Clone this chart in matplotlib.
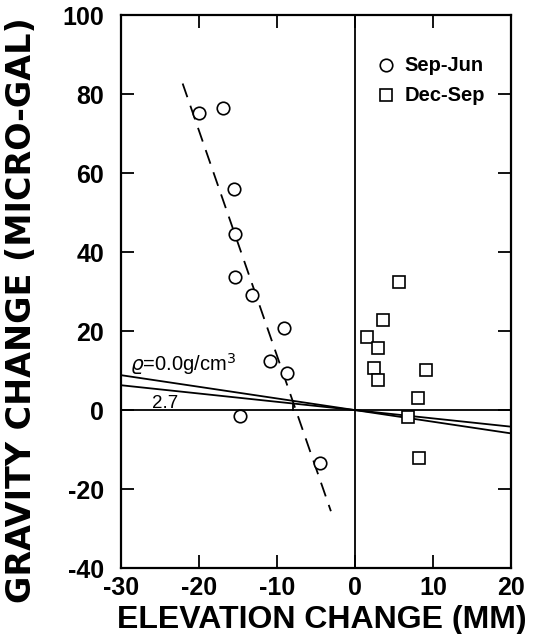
import matplotlib
matplotlib.use("Agg")
import matplotlib.pyplot as plt
import numpy as np

# Sep-Jun (circles)
sj_x = [-20.0, -16.9, -15.5, -15.4, -15.4, -13.2, -9.1, -10.9, -8.7, -14.7, -4.5]
sj_y = [75.2, 76.4, 56.1, 44.6, 33.7, 29.1, 20.9, 12.5, 9.3, -1.5, -13.3]
# Dec-Sep (squares)
ds_x = [5.6, 3.6, 1.5, 3.0, 2.4, 3.0, 9.1, 8.0, 6.8, 8.2]
ds_y = [32.5, 22.8, 18.4, 15.8, 10.6, 7.6, 10.1, 3.1, -1.7, -12.1]
# dashed fit line end points
fit_x = [-22.1, -3.1]
fit_y = [82.7, -25.6]
# theoretical gradient lines (micro-gal per mm) through origin
grad_rho0 = -0.295
grad_rho27 = -0.21
x_ticks = [-30, -20, -10, 0, 10, 20]
y_ticks = [-40, -20, 0, 20, 40, 60, 80, 100]

fig = plt.figure(figsize=(5.33, 6.34), dpi=100)
ax = fig.add_axes([0.227, 0.104, 0.732, 0.872])
ax.set_xlim(-30, 20)
ax.set_ylim(-40, 100)

lw = 1.3
xs = np.array([-30, 20])
ax.plot(xs, grad_rho0 * xs, color="black", lw=lw)
ax.plot(xs, grad_rho27 * xs, color="black", lw=lw)
ax.axhline(0, color="black", lw=lw)
ax.axvline(0, color="black", lw=lw)
ax.plot([-7.9, -7.9], [0, grad_rho27 * -7.9], color="black", lw=lw)

ax.plot(fit_x, fit_y, color="black", lw=1.3, ls=(0, (8, 5)))

ax.plot(sj_x, sj_y, ls="none", marker="o", ms=9, mfc="white", mec="black", mew=1.2)
ax.plot(ds_x, ds_y, ls="none", marker="s", ms=9, mfc="white", mec="black", mew=1.2)

# legend
ax.plot([4.0], [87.3], ls="none", marker="o", ms=9, mfc="white", mec="black", mew=1.2)
ax.plot([4.0], [79.7], ls="none", marker="s", ms=9, mfc="white", mec="black", mew=1.2)
ax.text(6.3, 87.3, "Sep-Jun", fontsize=14.5, fontweight="bold",
        family="Liberation Sans", va="center", ha="left")
ax.text(6.3, 79.7, "Dec-Sep", fontsize=14.5, fontweight="bold",
        family="Liberation Sans", va="center", ha="left")

ax.text(-28.9, 10.0, r"$\varrho$=0.0g/cm$^3$", fontsize=14.5, family="Liberation Sans",
        va="baseline", ha="left")
ax.text(-26.0, 0.6, "2.7", fontsize=13.5, family="Liberation Sans",
        va="baseline", ha="left")

ax.set_xticks(x_ticks)
ax.set_yticks(y_ticks)
ax.set_xticklabels([str(v) for v in x_ticks])
ax.set_yticklabels([str(v) for v in y_ticks])
for lab in ax.get_xticklabels() + ax.get_yticklabels():
    lab.set_fontfamily("Liberation Sans")
    lab.set_fontweight("bold")
    lab.set_fontsize(18)
ax.tick_params(direction="in", length=9.5, width=1.3, top=True, right=True)
ax.tick_params(axis="y", pad=12)
ax.tick_params(axis="x", pad=6)
for s in ax.spines.values():
    s.set_linewidth(1.6)

ax.set_xlabel("ELEVATION CHANGE (MM)", fontsize=23, fontweight="bold",
              family="Liberation Sans")
ax.xaxis.set_label_coords(0.514, -0.066)
ax.set_ylabel("GRAVITY CHANGE (MICRO-GAL)", fontsize=24, fontweight="bold",
              family="DejaVu Sans")
ax.yaxis.set_label_coords(-0.213, 0.467)

fig.savefig("out.png", dpi=100)
